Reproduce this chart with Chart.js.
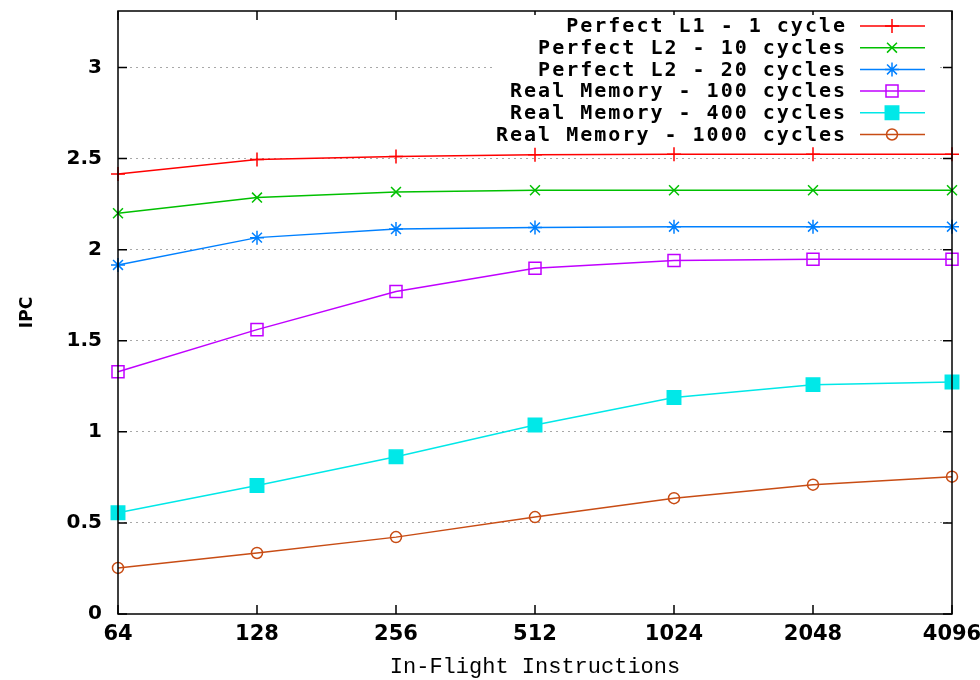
<!DOCTYPE html>
<html>
<head>
<meta charset="utf-8">
<script src="https://cdn.jsdelivr.net/npm/chart.js@4"></script>
<style>
    body { margin: 0; background: #fff; }
    #wrap { width: 980px; height: 680px; }
</style>
</head>
<body>
<div id="wrap"><canvas id="grafico" width="980" height="680"></canvas></div>
<script>
// Dados
const instrucoes = ['64', '128', '256', '512', '1024', '2048', '4096'];
const perfectL1 = [2.415, 2.495, 2.512, 2.521, 2.524, 2.524, 2.524];
const perfectL2_10 = [2.200, 2.286, 2.317, 2.326, 2.326, 2.326, 2.326];
const perfectL2_20 = [1.916, 2.066, 2.113, 2.122, 2.126, 2.126, 2.126];
const realMem100 = [1.330, 1.561, 1.770, 1.898, 1.940, 1.947, 1.947];
const realMem400 = [0.556, 0.705, 0.863, 1.037, 1.188, 1.259, 1.273];
const realMem1000 = [0.253, 0.335, 0.422, 0.532, 0.636, 0.710, 0.754];
const yTicks = [0, 0.5, 1, 1.5, 2, 2.5, 3];

// Estilo de cada série
function serie(label, data, cor, estilo, raio, cheio) {
    return {
        label: label,
        data: data,
        borderColor: cor,
        backgroundColor: cheio ? cor : 'rgba(255,255,255,0)',
        borderWidth: 1.5,
        pointStyle: estilo,
        pointRadius: raio,
        pointBorderWidth: 1.5,
        pointBackgroundColor: cheio ? cor : 'rgba(255,255,255,0)',
        tension: 0,
        clip: false
    };
}

// Caixa do gráfico, marcas internas e legenda estilo gnuplot
const gnuplotEstilo = {
    id: 'gnuplotEstilo',
    afterDraw(chart) {
        const ctx = chart.ctx;
        const a = chart.chartArea;
        const x = chart.scales.x, y = chart.scales.y;
        ctx.save();
        ctx.strokeStyle = '#000';
        ctx.lineWidth = 1.5;
        ctx.beginPath();
        x.ticks.forEach((t, i) => {
            const px = x.getPixelForTick(i);
            ctx.moveTo(px, a.bottom); ctx.lineTo(px, a.bottom - 9);
            ctx.moveTo(px, a.top); ctx.lineTo(px, a.top + 9);
        });
        y.ticks.forEach((t, i) => {
            const py = y.getPixelForTick(i);
            ctx.moveTo(a.left, py); ctx.lineTo(a.left + 9, py);
            ctx.moveTo(a.right, py); ctx.lineTo(a.right - 9, py);
        });
        ctx.stroke();

        // legenda
        ctx.fillStyle = '#fff';
        ctx.fillRect(494, 15, 443, 131);
        chart.data.datasets.forEach((ds, i) => {
            const cy = 26 + i * 21.7;
            ctx.font = 'bold 20px "DejaVu Sans Mono"';
            ctx.letterSpacing = '2px';
            ctx.textAlign = 'right';
            ctx.textBaseline = 'middle';
            ctx.fillStyle = '#000';
            ctx.fillText(ds.label, 847, cy + 1);
            ctx.letterSpacing = '0px';
            ctx.strokeStyle = ds.borderColor;
            ctx.lineWidth = 1.5;
            ctx.beginPath();
            ctx.moveTo(860, cy); ctx.lineTo(925, cy);
            ctx.stroke();
            ctx.fillStyle = ds.pointBackgroundColor;
            Chart.helpers.drawPoint(ctx, {
                pointStyle: ds.pointStyle, radius: ds.pointRadius, borderWidth: 1.5, rotation: 0
            }, 892, cy);
        });

        ctx.strokeStyle = '#000';
        ctx.lineWidth = 1.5;
        ctx.strokeRect(a.left, a.top, a.right - a.left, a.bottom - a.top);
        ctx.restore();
    }
};

new Chart(document.getElementById('grafico'), {
    type: 'line',
    data: {
        labels: instrucoes,
        datasets: [
            serie('Perfect L1 - 1 cycle', perfectL1, '#ff0000', 'cross', 7, false),
            serie('Perfect L2 - 10 cycles', perfectL2_10, '#00c000', 'crossRot', 7, false),
            serie('Perfect L2 - 20 cycles', perfectL2_20, '#0080ff', 'star', 7, false),
            serie('Real Memory - 100 cycles', realMem100, '#c000ff', 'rect', 8.5, false),
            serie('Real Memory - 400 cycles', realMem400, '#00e8e8', 'rect', 9.5, true),
            serie('Real Memory - 1000 cycles', realMem1000, '#c84c14', 'circle', 5.5, false)
        ]
    },
    plugins: [gnuplotEstilo],
    options: {
        responsive: false,
        animation: false,
        devicePixelRatio: 1,
        layout: { padding: { top: 9, right: 28, left: 0, bottom: 0 } },
        plugins: { legend: { display: false }, tooltip: { enabled: false } },
        scales: {
            x: {
                type: 'category',
                offset: false,
                grid: { display: false, drawTicks: false },
                border: { display: false },
                ticks: {
                    autoSkip: false, maxRotation: 0, padding: 8, color: '#000',
                    font: { family: '"DejaVu Sans"', size: 21, weight: 'bold' }
                },
                title: {
                    display: true, text: 'In-Flight Instructions', color: '#000',
                    font: { family: '"Liberation Mono"', size: 22 },
                    padding: { top: 0, bottom: 0 }
                },
                afterFit(scale) {
                    scale.height = 66;
                    scale.paddingLeft = 0;
                    scale.paddingRight = 0;
                }
            },
            y: {
                min: 0,
                max: 3.31,
                grid: {
                    color: (c) => (c.tick && c.tick.value > 0 ? '#a8a8a8' : 'rgba(0,0,0,0)'),
                    drawTicks: false,
                    lineWidth: 1
                },
                border: { display: false, dash: [2, 4] },
                afterBuildTicks(scale) {
                    scale.ticks = yTicks.map(v => ({ value: v }));
                },
                ticks: {
                    padding: 16, color: '#000',
                    font: { family: '"DejaVu Sans"', size: 20, weight: 'bold' },
                    callback: (v) => String(v)
                },
                title: {
                    display: true, text: 'IPC', color: '#000',
                    font: { family: '"DejaVu Sans"', size: 17, weight: 'bold' },
                    padding: { top: 17, bottom: 0 }
                },
                afterFit(scale) {
                    scale.width = 118;
                    scale.paddingTop = 0;
                    scale.paddingBottom = 0;
                }
            }
        }
    }
});
</script>
</body>
</html>
